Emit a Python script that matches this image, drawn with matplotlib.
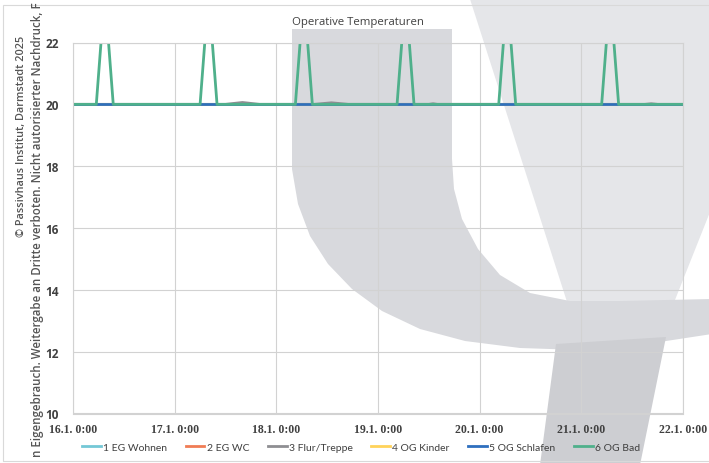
import matplotlib
matplotlib.use("Agg")
import matplotlib.pyplot as plt
from matplotlib.patches import Polygon, Rectangle

W, H = 709, 464

# Zeitachse in Stunden ab 16.1. 0:00
tick_hours = [0, 24, 48, 72, 96, 120, 144]
tick_labels = ["16.1. 0:00", "17.1. 0:00", "18.1. 0:00", "19.1. 0:00",
               "20.1. 0:00", "21.1. 0:00", "22.1. 0:00"]
y_ticks = [10, 12, 14, 16, 18, 20, 22]

# Raumtemperaturen (°C)
wohnen_t = [0, 144]
wohnen_v = [20.0, 20.0]
wc_t = [0, 144]
wc_v = [20.0, 20.0]
flur_t = [0, 36, 40, 44, 57, 61, 65, 84, 85, 86, 135, 136.5, 138, 144]
flur_v = [20.0, 20.0, 20.06, 20.0, 20.0, 20.05, 20.0, 20.0, 20.02, 20.0,
          20.0, 20.02, 20.0, 20.0]
kinder_t = [0, 144]
kinder_v = [20.0, 20.0]
schlafen_t = [0, 144]
schlafen_v = [20.0, 20.0]
bad_t = [0, 5.5, 7.5, 9.5, 30, 32, 34, 52.5, 54.5, 56.5,
         76.5, 78.5, 80.5, 100.5, 102.5, 104.5, 124.8, 126.8, 128.8, 144]
bad_v = [20.0, 20.0, 23.6, 20.0, 20.0, 23.6, 20.0, 20.0, 23.6, 20.0,
         20.0, 23.6, 20.0, 20.0, 23.6, 20.0, 20.0, 23.6, 20.0, 20.0]

series = [
    ("1 EG Wohnen", wohnen_t, wohnen_v, "#74c8d6"),
    ("2 EG WC", wc_t, wc_v, "#f07c55"),
    ("3 Flur/Treppe", flur_t, flur_v, "#8e8e92"),
    ("4 OG Kinder", kinder_t, kinder_v, "#ffd35a"),
    ("5 OG Schlafen", schlafen_t, schlafen_v, "#2e6fbe"),
    ("6 OG Bad", bad_t, bad_v, "#4fb08b"),
]


def px(pts):
    # Pixel (von oben links) -> Figurkoordinaten
    return [(x / W, 1 - y / H) for x, y in pts]


fig = plt.figure(figsize=(W / 100, H / 100), dpi=100)

# Wasserzeichen (Logo) im Hintergrund
upper_stem = [(470, 0), (712, 0), (712, 208), (673, 306), (568, 306)]
bowl = [(292, 30), (292, 170), (298, 205), (310, 237), (328, 265), (352, 290),
        (382, 312), (420, 330), (465, 342), (520, 349), (580, 351), (640, 346),
        (712, 335), (712, 300), (620, 302), (570, 302), (530, 294), (500, 276),
        (478, 250), (462, 220), (454, 190), (452, 160), (452, 30)]
lower_stem = [(556, 345), (666, 338), (640, 466), (540, 466)]
for pts, col in [(upper_stem, "#e5e6e9"), (bowl, "#d8d9dd"), (lower_stem, "#cdced2")]:
    fig.patches.append(Polygon(px(pts), closed=True, transform=fig.transFigure,
                               facecolor=col, edgecolor="none", zorder=-2))
fig.patches.append(Rectangle((3 / W, 1 - 462 / H), 1, (462 - 6) / H,
                             transform=fig.transFigure, fill=False,
                             edgecolor="#d9d9d9", lw=0.8, zorder=-1))

ax = fig.add_axes([73 / W, 1 - 414.5 / H, 610 / W, 371 / H])
ax.set_facecolor("none")

for name, t, v, col in series:
    ax.plot(t, v, color=col, lw=2.0, label=name)

ax.set_xlim(0, 144)
ax.set_ylim(10, 22)
ax.set_xticks(tick_hours)
ax.set_xticklabels(tick_labels)
ax.set_yticks(y_ticks)
ax.grid(True, color="#d2d2d2", lw=0.8)
ax.set_axisbelow(True)
for s in ax.spines.values():
    s.set_color("#d2d2d2")
    s.set_linewidth(0.8)
ax.tick_params(length=0, pad=7, labelcolor="#404040")
for lab in ax.get_xticklabels():
    lab.set_fontsize(8.5)
    lab.set_family("Liberation Serif")
    lab.set_fontweight("bold")
for lab in ax.get_yticklabels():
    lab.set_fontsize(8.5)
    lab.set_family("Open Sans")
    lab.set_fontweight("bold")
ax.tick_params(axis="y", pad=10)

fig.text(358 / W, 1 - 22 / H, "Operative Temperaturen", ha="center", va="center",
         fontsize=8.2, color="#404040", family="Open Sans")

leg = fig.legend(loc="center", bbox_to_anchor=(361 / W, 1 - 448 / H), ncol=6,
                 frameon=False, handlelength=1.8, handletextpad=0.2,
                 columnspacing=1.8, prop={"family": "Lato", "size": 7.5})
for txt in leg.get_texts():
    txt.set_color("#404040")

# Copyright-Vermerk am linken Rand
fig.text(22 / W, 1 - 136 / H, "© Passivhaus Institut, Darmstadt 2025", rotation=90,
         ha="center", va="center", fontsize=7.8, color="#555555",
         family="Open Sans", fontweight="semibold")
fig.text(38 / W, 1 - 230 / H,
         "n Eigengebrauch. Weitergabe an Dritte verboten. Nicht autorisierter Nachdruck, F",
         rotation=90, ha="center", va="center", fontsize=8.3, color="#555555",
         family="Open Sans", fontweight="semibold")

fig.savefig("out.png", dpi=100)
